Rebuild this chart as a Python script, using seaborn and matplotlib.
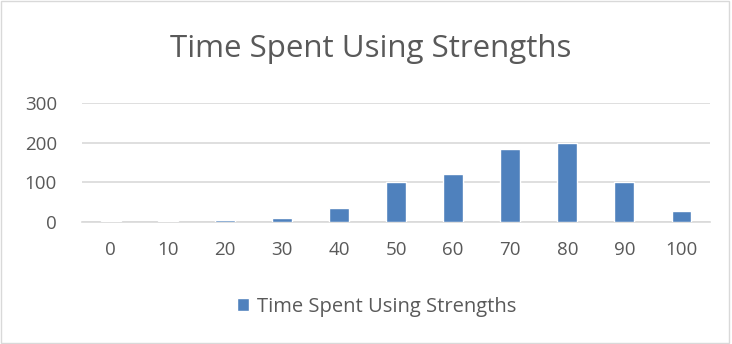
import matplotlib
matplotlib.use("Agg")
import matplotlib.pyplot as plt
import seaborn as sns
import pandas as pd
from matplotlib.patches import Rectangle

categories = ["0", "10", "20", "30", "40", "50", "60", "70", "80", "90", "100"]
values = [1, 2, 4, 10, 36, 101, 121, 184, 200, 102, 28]
y_ticks = [0, 100, 200, 300]
series_name = "Time Spent Using Strengths"

sns.set_theme(style="white")
plt.rcParams["font.family"] = ["Open Sans", "DejaVu Sans"]

df = pd.DataFrame({"score": categories, "count": values})

fig = plt.figure(figsize=(7.32, 3.44), dpi=100)
ax = fig.add_axes([0.112, 0.355, 0.858, 0.345])

sns.barplot(data=df, x="score", y="count", color="#4f81bd", width=0.35,
            saturation=1, ax=ax, label=series_name, zorder=3)

ax.set_ylim(0, 300)
ax.set_yticks(y_ticks)
ax.set_xlim(-0.5, len(categories) - 0.5)
ax.grid(axis="y", color="#d9d9d9", linewidth=1.2, zorder=0)
ax.grid(axis="x", visible=False)
for s in ["top", "right", "left"]:
    ax.spines[s].set_visible(False)
ax.spines["bottom"].set_color("#d9d9d9")
ax.spines["bottom"].set_linewidth(1.2)
ax.tick_params(axis="both", length=0, labelsize=13.5, colors="#595959")
ax.tick_params(axis="x", pad=14)
ax.tick_params(axis="y", pad=18)
ax.set_xlabel("")
ax.set_ylabel("")

fig.text(0.507, 0.857, series_name, ha="center", va="center",
         fontsize=22.5, color="#595959")

leg = ax.legend(loc="center", bbox_to_anchor=(0.515, 0.108), bbox_transform=fig.transFigure,
                frameon=False, fontsize=14.5, handlelength=0.6, handleheight=0.6,
                handletextpad=0.4)
for t in leg.get_texts():
    t.set_color("#595959")

# outer chart border
fig.patches.append(Rectangle((0.002, 0.003), 0.994, 0.993, transform=fig.transFigure,
                             fill=False, edgecolor="#d9d9d9", linewidth=1))

fig.savefig("out.png", dpi=100)
